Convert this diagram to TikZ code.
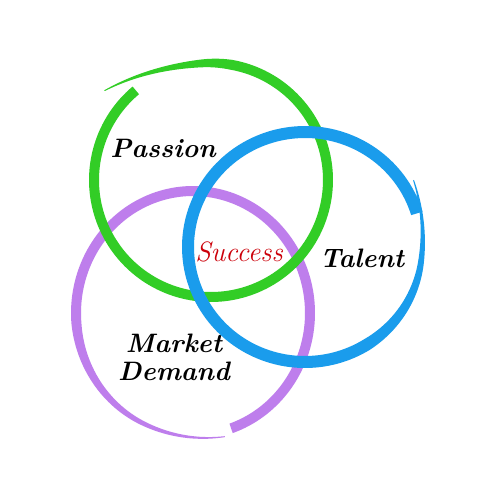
\documentclass[tikz,border=0pt]{standalone}
\usepackage{amsmath}
\usepackage[dvipsnames]{xcolor}

\definecolor{passiongreen}{RGB}{50,205,38}
\definecolor{talentblue}{RGB}{26,156,236}
\definecolor{marketpurple}{RGB}{190,126,236}
\definecolor{successred}{RGB}{204,0,10}

\tikzset{
  word/.style={inner sep=0.75pt, font=\fontsize{20}{24}\selectfont\bfseries\itshape, text=black},
  keyword/.style={inner sep=0.75pt, font=\fontsize{21}{24}\selectfont\itshape, text=successred}
}

\begin{document}
\begin{tikzpicture}[x=0.75pt,y=0.75pt,yscale=-1,xscale=1,
  declare function={
    gr(\t)=22*max(0,1-(\t-220)/45)^2;  gw(\t)=1+9*min(1,(\t-220)/60);
    br(\t)=11*max(0,1-(\t+32)/40)^2;   bw(\t)=1+11*min(1,(\t+32)/90);
    pr(\t)=6*max(0,1-(\t+285)/40)^2;   pw(\t)=1+9*min(1,(\t+285)/100);
  }]
\fill[white] (0,0) rectangle (500,500);
\useasboundingbox (0,0) rectangle (500,500);
% market demand ring
\fill[marketpurple] plot[domain=71:-285,samples=180] ({193+(117+pr(\x)+pw(\x)/2)*cos(\x)},{313+(122+pr(\x)+pw(\x)/2)*sin(\x)})
   -- plot[domain=-285:71,samples=180] ({193+(117+pr(\x)-pw(\x)/2)*cos(\x)},{313+(122+pr(\x)-pw(\x)/2)*sin(\x)}) -- cycle;
% passion ring
\fill[passiongreen] plot[domain=220:590,samples=180] ({211+(117+gr(\x)+gw(\x)/2)*cos(\x)},{180+(117+gr(\x)+gw(\x)/2)*sin(\x)})
   -- plot[domain=590:220,samples=180] ({211+(117+gr(\x)-gw(\x)/2)*cos(\x)},{180+(117+gr(\x)-gw(\x)/2)*sin(\x)}) -- cycle;
% talent ring
\fill[talentblue] plot[domain=343:-32,samples=180] ({305+(117+br(\x)+bw(\x)/2)*cos(\x)},{247+(115+br(\x)+bw(\x)/2)*sin(\x)})
   -- plot[domain=-32:343,samples=180] ({305+(117+br(\x)-bw(\x)/2)*cos(\x)},{247+(115+br(\x)-bw(\x)/2)*sin(\x)}) -- cycle;

\node[word] (passion) at (163,148) {Passion};
\node[word] (talent) at (362,258) {Talent};
\node[keyword] (success) at (239,252) {Success};
\node[word, align=center] (market) at (174,357) {Market\\[-3pt]Demand};
\end{tikzpicture}
\end{document}
